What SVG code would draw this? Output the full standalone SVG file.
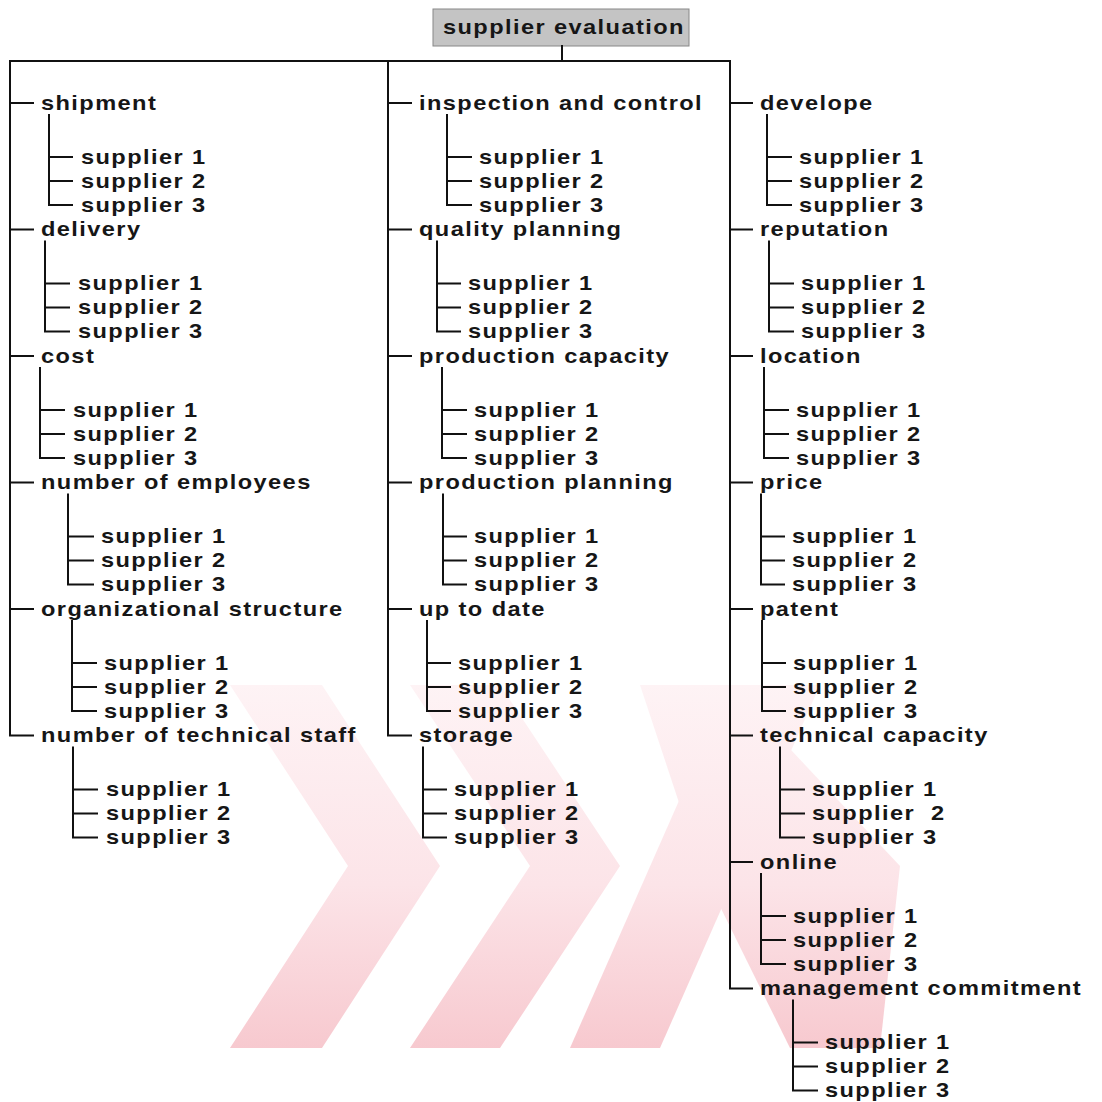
<svg xmlns="http://www.w3.org/2000/svg" width="1102" height="1102" viewBox="0 0 1102 1102">
<defs>
<style>
text{font-family:"Liberation Sans",Arial,sans-serif;font-weight:bold;font-size:20px;letter-spacing:1.2px;fill:#161616}
.tx{transform:scale(1.18,1)}
.ln{fill:none;stroke:#111;stroke-width:2;stroke-linejoin:miter;stroke-linecap:square}
.wm{fill:url(#wmg)}
</style>
<linearGradient id="wmg" x1="0" y1="685" x2="0" y2="1048" gradientUnits="userSpaceOnUse">
<stop offset="0" stop-color="#fef3f5"/>
<stop offset="0.55" stop-color="#fce4e8"/>
<stop offset="1" stop-color="#f7c9cf"/>
</linearGradient>
<clipPath id="wmclip"><rect x="150" y="685" width="760" height="363"/></clipPath>
</defs>
<rect width="1102" height="1102" fill="#fff"/>
<g id="watermark" clip-path="url(#wmclip)">
<polygon class="wm" points="230,685 322,685 440,866 322,1048 230,1048 348,866"/>
<polygon class="wm" points="410,685 500,685 620,866 500,1048 410,1048 530,866"/>
<polygon class="wm" points="570,1048 660,1048 820,685 730,685"/>
<polygon class="wm" points="640,685 730,685 900,866 880,1048 790,1048 700,866"/>
</g>
<g id="root">
<rect x="433" y="9" width="256" height="37" fill="#c4c4c4" stroke="#888" stroke-width="1"/>
<g class="tx"><text x="375.4" y="34">supplier evaluation</text></g>
</g>
<g id="connectors">
<path class="ln" d="M562,46 V61 M10,61 H730 M10,61 V735.5 H33 M388,61 V735.5 H411 M730,61 V988.5 H752"/>
<path class="ln" d="M10,103 H33 M10,229.5 H33 M10,356 H33 M10,482.5 H33 M10,609 H33"/>
<path class="ln" d="M388,103 H411 M388,229.5 H411 M388,356 H411 M388,482.5 H411 M388,609 H411"/>
<path class="ln" d="M730,103 H752 M730,229.5 H752 M730,356 H752 M730,482.5 H752 M730,609 H752 M730,735.5 H752 M730,862 H752"/>
<path class="ln" d="M49,115 V205 H72 M49,157 H72 M49,181 H72"/>
<path class="ln" d="M45,241.5 V331.5 H69 M45,283.5 H69 M45,307.5 H69"/>
<path class="ln" d="M40,368 V458 H64 M40,410 H64 M40,434 H64"/>
<path class="ln" d="M68,494.5 V584.5 H93 M68,536.5 H93 M68,560.5 H93"/>
<path class="ln" d="M72,621 V711 H96 M72,663 H96 M72,687 H96"/>
<path class="ln" d="M73,747.5 V837.5 H97 M73,789.5 H97 M73,813.5 H97"/>
<path class="ln" d="M447,115 V205 H471 M447,157 H471 M447,181 H471"/>
<path class="ln" d="M437,241.5 V331.5 H460 M437,283.5 H460 M437,307.5 H460"/>
<path class="ln" d="M442,368 V458 H466 M442,410 H466 M442,434 H466"/>
<path class="ln" d="M443,494.5 V584.5 H466 M443,536.5 H466 M443,560.5 H466"/>
<path class="ln" d="M427,621 V711 H450 M427,663 H450 M427,687 H450"/>
<path class="ln" d="M423,747.5 V837.5 H446 M423,789.5 H446 M423,813.5 H446"/>
<path class="ln" d="M767,115 V205 H791 M767,157 H791 M767,181 H791"/>
<path class="ln" d="M769,241.5 V331.5 H793 M769,283.5 H793 M769,307.5 H793"/>
<path class="ln" d="M764,368 V458 H788 M764,410 H788 M764,434 H788"/>
<path class="ln" d="M761,494.5 V584.5 H784 M761,536.5 H784 M761,560.5 H784"/>
<path class="ln" d="M762,621 V711 H785 M762,663 H785 M762,687 H785"/>
<path class="ln" d="M780,747.5 V837.5 H804 M780,789.5 H804 M780,813.5 H804"/>
<path class="ln" d="M761,874 V964 H785 M761,916 H785 M761,940 H785"/>
<path class="ln" d="M793,1000.5 V1090.5 H817 M793,1042.5 H817 M793,1066.5 H817"/>
</g>
<g id="c1" class="tx">
<g id="shipment"><text x="34.75" y="110">shipment</text><text x="68.64" y="164">supplier 1</text><text x="68.64" y="188">supplier 2</text><text x="68.64" y="212">supplier 3</text></g>
<g id="delivery"><text x="34.75" y="236.5">delivery</text><text x="66.1" y="290.5">supplier 1</text><text x="66.1" y="314.5">supplier 2</text><text x="66.1" y="338.5">supplier 3</text></g>
<g id="cost"><text x="34.75" y="363">cost</text><text x="61.86" y="417">supplier 1</text><text x="61.86" y="441">supplier 2</text><text x="61.86" y="465">supplier 3</text></g>
<g id="employees"><text x="34.75" y="489.5">number of employees</text><text x="85.59" y="543.5">supplier 1</text><text x="85.59" y="567.5">supplier 2</text><text x="85.59" y="591.5">supplier 3</text></g>
<g id="organizational"><text x="34.75" y="616">organizational structure</text><text x="88.14" y="670">supplier 1</text><text x="88.14" y="694">supplier 2</text><text x="88.14" y="718">supplier 3</text></g>
<g id="technicalstaff"><text x="34.75" y="742.5">number of technical staff</text><text x="89.83" y="796.5">supplier 1</text><text x="89.83" y="820.5">supplier 2</text><text x="89.83" y="844.5">supplier 3</text></g>
</g>
<g id="c2" class="tx">
<g id="inspection"><text x="355.08" y="110">inspection and control</text><text x="405.93" y="164">supplier 1</text><text x="405.93" y="188">supplier 2</text><text x="405.93" y="212">supplier 3</text></g>
<g id="quality"><text x="355.08" y="236.5">quality planning</text><text x="396.61" y="290.5">supplier 1</text><text x="396.61" y="314.5">supplier 2</text><text x="396.61" y="338.5">supplier 3</text></g>
<g id="prodcapacity"><text x="355.08" y="363">production capacity</text><text x="401.69" y="417">supplier 1</text><text x="401.69" y="441">supplier 2</text><text x="401.69" y="465">supplier 3</text></g>
<g id="prodplanning"><text x="355.08" y="489.5">production planning</text><text x="401.69" y="543.5">supplier 1</text><text x="401.69" y="567.5">supplier 2</text><text x="401.69" y="591.5">supplier 3</text></g>
<g id="uptodate"><text x="355.08" y="616">up to date</text><text x="388.14" y="670">supplier 1</text><text x="388.14" y="694">supplier 2</text><text x="388.14" y="718">supplier 3</text></g>
<g id="storage"><text x="355.08" y="742.5">storage</text><text x="384.75" y="796.5">supplier 1</text><text x="384.75" y="820.5">supplier 2</text><text x="384.75" y="844.5">supplier 3</text></g>
</g>
<g id="c3" class="tx">
<g id="develope"><text x="644.07" y="110">develope</text><text x="677.12" y="164">supplier 1</text><text x="677.12" y="188">supplier 2</text><text x="677.12" y="212">supplier 3</text></g>
<g id="reputation"><text x="644.07" y="236.5">reputation</text><text x="678.81" y="290.5">supplier 1</text><text x="678.81" y="314.5">supplier 2</text><text x="678.81" y="338.5">supplier 3</text></g>
<g id="location"><text x="644.07" y="363">location</text><text x="674.58" y="417">supplier 1</text><text x="674.58" y="441">supplier 2</text><text x="674.58" y="465">supplier 3</text></g>
<g id="price"><text x="644.07" y="489.5">price</text><text x="671.19" y="543.5">supplier 1</text><text x="671.19" y="567.5">supplier 2</text><text x="671.19" y="591.5">supplier 3</text></g>
<g id="patent"><text x="644.07" y="616">patent</text><text x="672.03" y="670">supplier 1</text><text x="672.03" y="694">supplier 2</text><text x="672.03" y="718">supplier 3</text></g>
<g id="techcapacity"><text x="644.07" y="742.5">technical capacity</text><text x="688.14" y="796.5">supplier 1</text><text x="688.14" y="820.5" xml:space="preserve">supplier  2</text><text x="688.14" y="844.5">supplier 3</text></g>
<g id="online"><text x="644.07" y="869">online</text><text x="672.03" y="923">supplier 1</text><text x="672.03" y="947">supplier 2</text><text x="672.03" y="971">supplier 3</text></g>
<g id="management"><text x="644.07" y="995.5">management commitment</text><text x="699.15" y="1049.5">supplier 1</text><text x="699.15" y="1073.5">supplier 2</text><text x="699.15" y="1097.5">supplier 3</text></g>
</g>
</svg>
